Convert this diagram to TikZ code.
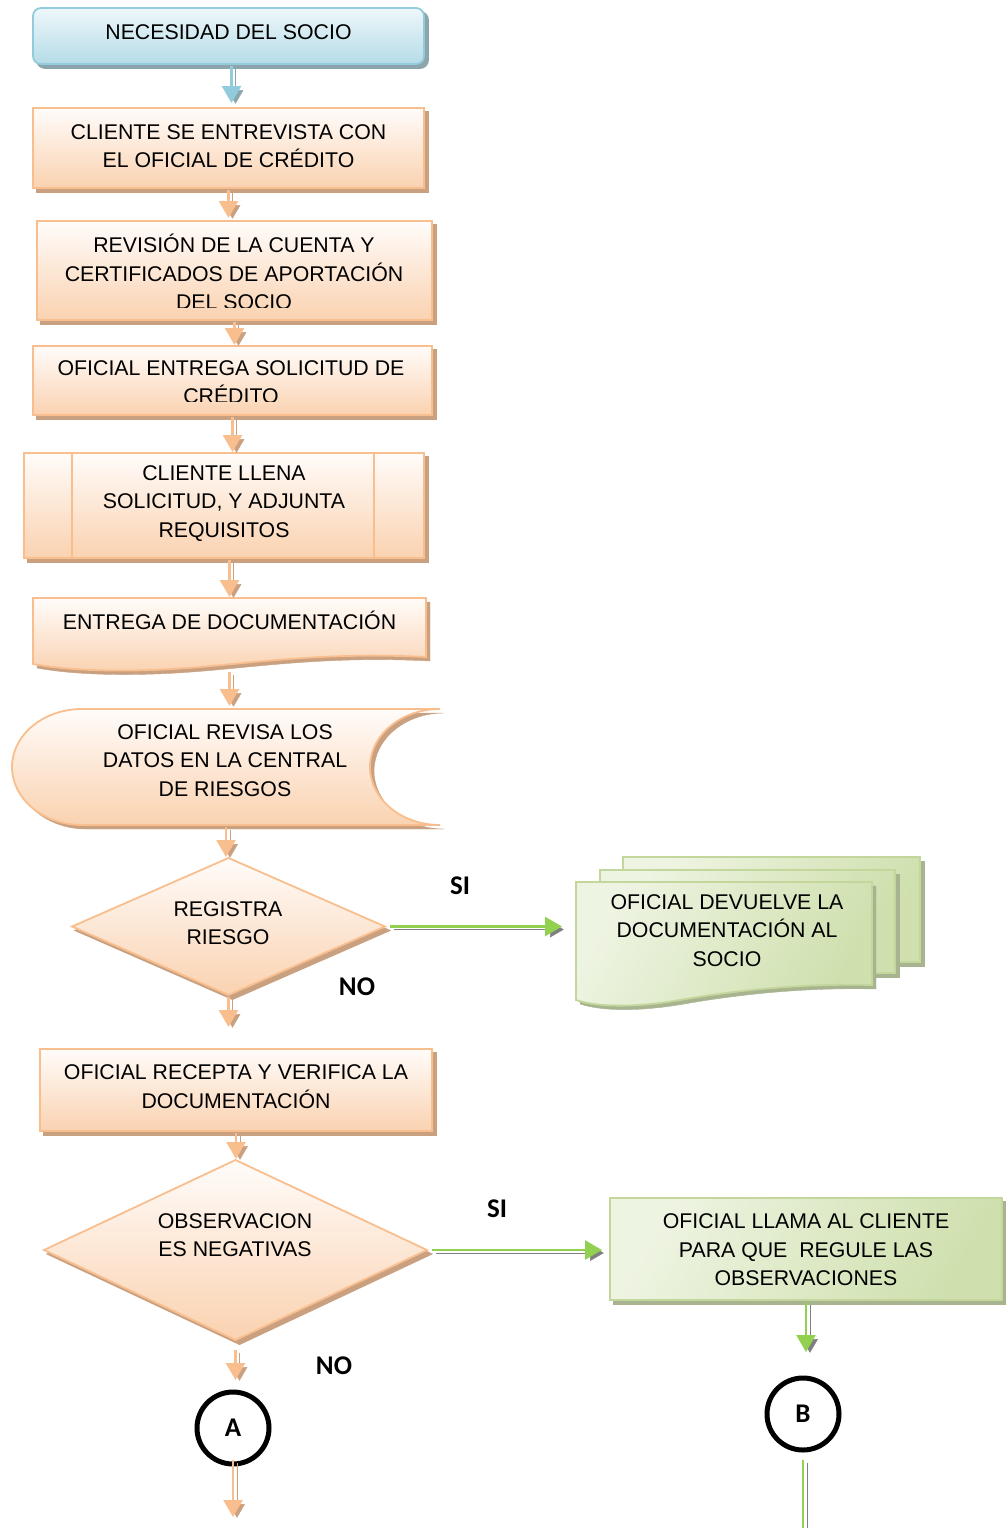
\documentclass[tikz,border=0pt]{standalone}
\usepackage{fontspec}
\setmainfont{Liberation Sans}
\newfontfamily\tagfont{Carlito}
\usetikzlibrary{arrows.meta,shapes.geometric,calc}

\definecolor{orgTop}{HTML}{FFFCFA}
\definecolor{orgBot}{HTML}{FAD2B0}
\definecolor{orgLine}{HTML}{F9BE8E}
\definecolor{orgShadow}{HTML}{C9A080}
\definecolor{bluTop}{HTML}{EEF7FA}
\definecolor{bluBot}{HTML}{B5DCE7}
\definecolor{bluLine}{HTML}{92CCDC}
\definecolor{bluShadow}{HTML}{8CA4AC}
\definecolor{grnLight}{HTML}{EEF4E2}
\definecolor{grnDark}{HTML}{CFE0AE}
\definecolor{grnLine}{HTML}{C3D69B}
\definecolor{grnShadow}{HTML}{A7B48F}
\definecolor{grnArrow}{HTML}{92D050}
\definecolor{grayArrow}{HTML}{808080}

\tikzset{
  x=1pt, y=-1pt,
  every node/.style={inner sep=0pt, outer sep=0pt},
  txt/.style={font=\fontsize{21.3}{28.5}\selectfont, align=center},
  tag/.style={font=\tagfont\bfseries\fontsize{27}{30}\selectfont},
  dropfill/.style={preaction={fill=#1, draw=#1, transform canvas={shift={(4pt,-4pt)}}}},
  orgshape/.style={draw=orgLine, line width=1.8pt, top color=orgTop, bottom color=orgBot, dropfill=orgShadow},
  blushape/.style={draw=bluLine, line width=1.8pt, top color=bluTop, bottom color=bluBot, dropfill=bluShadow, rounded corners=8pt},
  grnshape/.style={draw=grnLine, line width=1.8pt, left color=grnLight, right color=grnDark, shading angle=60, dropfill=grnShadow},
  flowtip/.style={-{Triangle[width=19pt,length=17pt]}},
  pairline/.style 2 args={draw=#1, line width=2.6pt,
     preaction={draw=#2, transform canvas={shift={(4pt,-3pt)}}}},
  orglink/.style={pairline={orgLine}{orgShadow}, flowtip},
  blulink/.style={pairline={bluLine}{bluShadow}, flowtip},
  grnlink/.style={pairline={grnArrow}{grayArrow}, flowtip},
  joint/.style={circle, draw=black, line width=5pt, minimum size=72pt, tag},
}

\begin{document}
\begin{tikzpicture}
\useasboundingbox (0,0) rectangle (1006,1528);

% ---------- main column ----------
\node[blushape, minimum width=391pt, minimum height=56pt] (n1) at (228.5,36) {};
\node[txt] (n1t) at (228.5,32) {NECESIDAD DEL SOCIO};

\node[orgshape, minimum width=391pt, minimum height=80pt] (n2) at (228.5,148) {};
\node[txt] (n2t) at (228.5,146) {CLIENTE SE ENTREVISTA CON\\EL OFICIAL DE CRÉDITO};

\node[orgshape, minimum width=395pt, minimum height=99pt] (n3) at (234.5,270.5) {};
\begin{scope}
  \clip (30,215) rectangle (440,307);
  \node[txt] (n3t) at (234,272) {REVISIÓN DE LA CUENTA Y\\CERTIFICADOS DE APORTACIÓN\\DEL SOCIO};
\end{scope}

\node[orgshape, minimum width=399pt, minimum height=69pt] (n4) at (232.5,380.5) {};
\begin{scope}
  \clip (30,340) rectangle (440,401.5);
  \node[txt] (n4t) at (231,382) {OFICIAL ENTREGA SOLICITUD DE\\CRÉDITO};
\end{scope}

% predefined process
\node[orgshape, minimum width=400pt, minimum height=105pt] (n5) at (224,505.5) {};
\draw[orgLine, line width=1.8pt] ($(n5.north west)+(48,0)$) -- ($(n5.south west)+(48,0)$);
\draw[orgLine, line width=1.8pt] ($(n5.north east)+(-50,0)$) -- ($(n5.south east)+(-50,0)$);
\node[txt] (n5t) at (224,503.5) {CLIENTE LLENA\\SOLICITUD, Y ADJUNTA\\REQUISITOS};

% document
\path[orgshape] (33,598) -- (426,598) -- (426,657)
  .. controls (330,652) and (260,662) .. (200,667)
  .. controls (130,673) and (70,671) .. (33,664) -- cycle;
\node[minimum width=393pt, minimum height=70pt] (n6) at (229.5,633) {};
\node[txt] (n6t) at (229.5,620) {ENTREGA DE DOCUMENTACIÓN};

% stored data
\path[orgshape] (82,709) -- (440,709)
  arc[start angle=270, end angle=90, x radius=70, y radius=58]
  -- (82,825)
  arc[start angle=90, end angle=270, x radius=70, y radius=58] -- cycle;
\node[minimum width=428pt, minimum height=116pt] (n7) at (226,767) {};
\node[txt] (n7t) at (225,760.5) {OFICIAL REVISA LOS\\DATOS EN LA CENTRAL\\DE RIESGOS};

% first decision
\node[diamond, orgshape, minimum width=313pt, minimum height=137pt] (d1) at (228.5,926.5) {};
\node[txt] (d1t) at (228,923) {REGISTRA\\RIESGO};

\node[orgshape, minimum width=392pt, minimum height=82pt] (n8) at (236,1090) {};
\node[txt] (n8t) at (236,1086.5) {OFICIAL RECEPTA Y VERIFICA LA\\DOCUMENTACIÓN};

% second decision
\node[diamond, orgshape, minimum width=383pt, minimum height=180pt] (d2) at (235.5,1250) {};
\node[txt] (d2t) at (235,1235) {OBSERVACION\\ES NEGATIVAS};

\node[joint] (cA) at (233,1428) {A};
\coordinate (aEnd) at (234,1517);

% ---------- right branch ----------
\path[grnshape] (623,857) rectangle (920,962);
\path[grnshape] (600,870) rectangle (895,973);
\path[grnshape] (576,882) -- (872,882) -- (872,985)
  .. controls (790,983) and (720,993) .. (680,1000)
  .. controls (640,1007) and (600,1008) .. (576,1000) -- cycle;
\node[minimum width=296pt, minimum height=118pt] (md) at (724,941) {};
\node[txt] (mdt) at (727,930.5) {OFICIAL DEVUELVE LA\\DOCUMENTACIÓN AL\\SOCIO};

\node[grnshape, minimum width=392pt, minimum height=102pt] (n9) at (806,1249) {};
\node[txt] (n9t) at (806,1250) {OFICIAL LLAMA AL CLIENTE\\PARA QUE\ \ REGULE LAS\\OBSERVACIONES};

\node[joint] (cB) at (803,1414) {B};
\coordinate (bEnd) at (806,1532);

% ---------- labels ----------
\node[tag] (si1) at (460,886) {SI};
\node[tag] (no1) at (357,987) {NO};
\node[tag] (si2) at (497,1209) {SI};
\node[tag] (no2) at (334,1366) {NO};

% ---------- connectors ----------
\draw[blulink, shorten <=2pt, shorten >=5pt] ($(n1.south)+(3,0)$) -- ($(n2.north)+(3,0)$);
\draw[orglink, shorten <=2pt, shorten >=3pt] (n2.south) -- (n2.south |- n3.north);
\draw[orglink, shorten <=2pt, shorten >=1pt] (n3.south) -- (n3.south |- n4.north);
\draw[orglink, shorten <=2pt, shorten >=1pt] (n4.south) -- (n4.south |- n5.north);
\draw[orglink, shorten <=2pt, shorten >=1pt] (n5.south -| n6.north) -- (n6.north);
\draw[orglink, shorten <=4pt, shorten >=3pt] (n6.south) -- (n6.south |- n7.north);
\draw[orglink, shorten <=2pt, shorten >=1pt] (n7.south) -- (n7.south |- d1.north);
\draw[orglink, shorten <=2pt, shorten >=22pt] (d1.south) -- (d1.south |- n8.north);
\draw[orglink, shorten <=2pt, shorten >=1pt] (n8.south) -- (n8.south |- d2.north);
\draw[orglink, shorten <=10pt, shorten >=12pt] (d2.south) -- (d2.south |- cA.north);
\draw[orglink, shorten <=-4pt] (cA.south) -- (cA.south |- aEnd);

\draw[grnlink, shorten <=5pt, shorten >=14pt] (d1.east) -- (d1.east -| md.west);
\draw[grnlink, shorten <=5pt, shorten >=8pt] (d2.east) -- (d2.east -| n9.west);
\draw[grnlink, shorten <=2pt, shorten >=26pt] (n9.south) -- (n9.south |- cB.north);
\draw[pairline={grnArrow}{grayArrow}, shorten <=10pt] (cB.south) -- (cB.south |- bEnd);
\end{tikzpicture}
\end{document}
